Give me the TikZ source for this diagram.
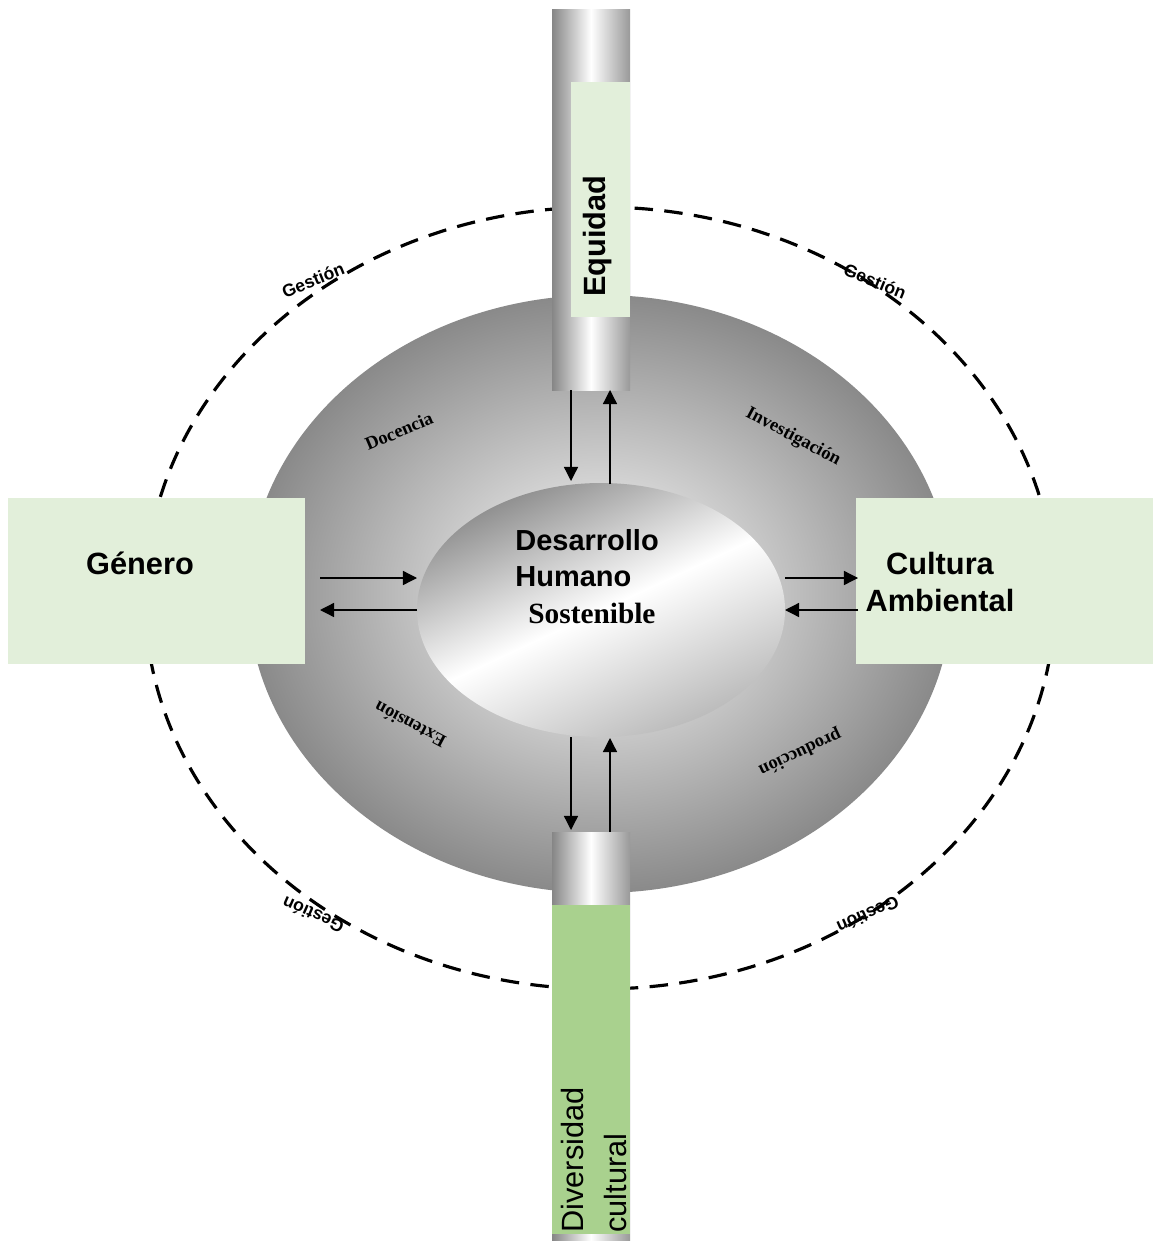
\documentclass[tikz,border=0pt]{standalone}
\usepackage{fontspec}
\setmainfont{Liberation Serif}
\setsansfont{Liberation Sans}
\usetikzlibrary{arrows.meta}
\definecolor{verdeclaro}{HTML}{E2EFDA}
\definecolor{verdemedio}{HTML}{A9D18E}
\begin{document}
\begin{tikzpicture}[x=0.02cm,y=-0.02cm,>={Triangle[length=8pt,width=8pt]},line join=round,
		tubo/.style={left color=gray!95,right color=gray!80,middle color=white},
		flecha/.style={->,line width=0.75pt},
		grande/.style={font=\sffamily\bfseries\fontsize{17.5}{21.5}\selectfont},
		eje/.style={font=\rmfamily\bfseries\fontsize{10.5}{12}\selectfont},
		gestion/.style={font=\sffamily\bfseries\fontsize{10}{12}\selectfont}]
	\useasboundingbox (0,0) rectangle (1153,1243);
	% anillo de gestion y elipse exterior
	\draw[line width=1.8pt, dash pattern=on 10.5pt off 6.5pt] (600,598) ellipse [x radius=455, y radius=391];
	\shade[inner color=white, outer color=gray!92] (600,594) ellipse [x radius=352, y radius=299];
	% tubos
	\shade[tubo] (552,10) rectangle (630,390);
	\fill[verdeclaro] (571,82) rectangle (630,317);
	\shade[tubo] (552,832) rectangle (630,1240);
	\fill[verdemedio] (552,905) rectangle (630,1234);
	% cajas laterales
	\fill[verdeclaro] (8,498) rectangle (305,664);
	\fill[verdeclaro] (856,498) rectangle (1153,664);
	% elipse central
	\shade[top color=gray!90, bottom color=gray!55, middle color=white, shading angle=25] (601,610) ellipse [x radius=184, y radius=127];
	% puntos de las flechas
	\coordinate (N1) at (571,390);
	\coordinate (N2) at (571,481);
	\coordinate (N3) at (610,484);
	\coordinate (N4) at (610,390);
	\coordinate (S1) at (571,737);
	\coordinate (S2) at (571,830);
	\coordinate (S3) at (610,832);
	\coordinate (S4) at (610,738);
	\coordinate (O1) at (320,578);
	\coordinate (O2) at (417,578);
	\coordinate (O3) at (417,610);
	\coordinate (O4) at (320,610);
	\coordinate (E1) at (785,578);
	\coordinate (E2) at (858,578);
	\coordinate (E3) at (858,610);
	\coordinate (E4) at (785,610);
	\draw[flecha] (N1)--(N2);
	\draw[flecha] (N3)--(N4);
	\draw[flecha] (S1)--(S2);
	\draw[flecha] (S3)--(S4);
	\draw[flecha] (O1)--(O2);
	\draw[flecha] (O3)--(O4);
	\draw[flecha] (E1)--(E2);
	\draw[flecha] (E3)--(E4);
	% textos
	\node[grande, rotate=90] (equidad) at (598,236) {Equidad};
	\node[rotate=90, anchor=west, align=left, inner sep=0pt, font=\sffamily\fontsize{17.5}{25}\selectfont] (diversidad) at (594,1233) {Diversidad\\cultural};
	\node[grande] (genero) at (140,563) {Género};
	\node[grande, align=center] (cultura) at (940,582) {Cultura\\Ambiental};
	\node[anchor=base west, inner sep=0pt, font=\sffamily\bfseries\fontsize{16.5}{20}\selectfont] (desarrollo) at (515,550) {Desarrollo};
	\node[anchor=base west, inner sep=0pt, font=\sffamily\bfseries\fontsize{16.5}{20}\selectfont] (humano) at (515,586) {Humano};
	\node[anchor=base west, inner sep=0pt, font=\rmfamily\bfseries\fontsize{16.7}{20}\selectfont] (sostenible) at (528,623) {Sostenible};
	\node[eje, rotate=23] (docencia) at (399,431) {Docencia};
	\node[eje, rotate=-28] (investigacion) at (793,437) {Investigación};
	\node[eje, rotate=152] (extension) at (410,725) {Extensión};
	\node[eje, rotate=205] (produccion) at (800,752) {producción};
	\node[gestion, rotate=22] (gestion1) at (313,280) {Gestión};
	\node[gestion, rotate=-22] (gestion2) at (875,281) {Gestión};
	\node[gestion, rotate=156] (gestion3) at (313,915) {Gestión};
	\node[gestion, rotate=204] (gestion4) at (868,915) {Gestión};
\end{tikzpicture}
\end{document}
